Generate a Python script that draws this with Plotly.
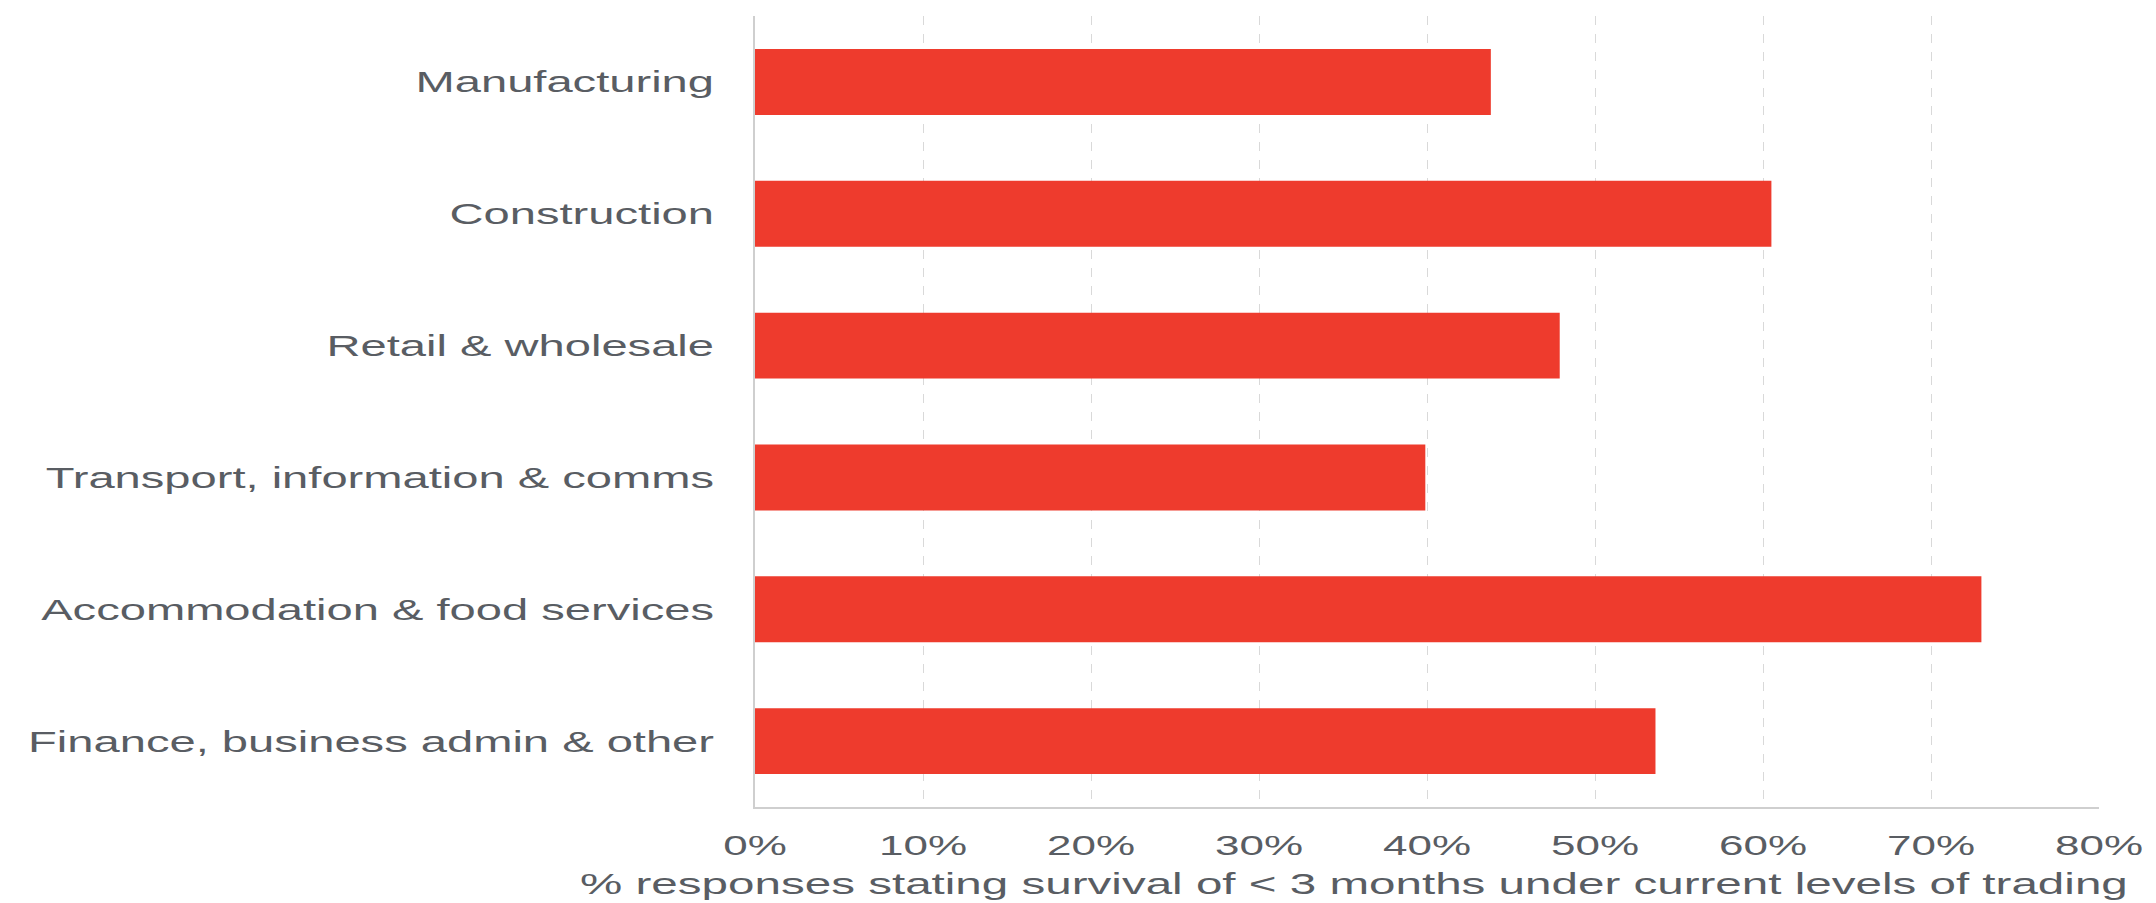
import plotly.graph_objects as go

# Share of responses stating survival of < 3 months, by sector
sectors = [
    "Manufacturing",
    "Construction",
    "Retail & wholesale",
    "Transport, information & comms",
    "Accommodation & food services",
    "Finance, business admin & other",
]
share_pct = [43.8, 60.5, 47.9, 39.9, 73.0, 53.6]

x_ticks = [0, 10, 20, 30, 40, 50, 60, 70, 80]
x_tick_labels = ["0%", "10%", "20%", "30%", "40%", "50%", "60%", "70%", "80%"]
x_title = "% responses stating survival of < 3 months under current levels of trading"

BAR_RED = "#EE3B2D"
TEXT_GREY = "#595d63"
AXIS_GREY = "#cfcfcf"
GRID_GREY = "#d9d9d9"
FONT = "Liberation Sans, Arial, sans-serif"

fig = go.Figure(
    go.Bar(
        x=share_pct,
        y=sectors,
        orientation="h",
        width=0.5,
        marker=dict(color=BAR_RED, line=dict(width=0)),
        hoverinfo="x+y",
    )
)

fig.update_layout(
    width=2156,
    height=903,
    margin=dict(l=755, r=57, t=16, b=96, pad=0),
    paper_bgcolor="white",
    plot_bgcolor="white",
    showlegend=False,
    font=dict(family=FONT, color=TEXT_GREY, size=30),
    xaxis=dict(
        range=[0, 80],
        tickvals=x_ticks,
        ticktext=x_tick_labels,
        tickfont=dict(size=28, color=TEXT_GREY),
        showgrid=True,
        gridcolor=GRID_GREY,
        griddash="dash",
        gridwidth=1,
        zeroline=False,
        showline=True,
        linecolor=AXIS_GREY,
        linewidth=2,
        ticks="",
        ticklabelstandoff=12,
        fixedrange=True,
    ),
    yaxis=dict(
        categoryorder="array",
        categoryarray=sectors,
        autorange="reversed",
        tickfont=dict(size=30, color=TEXT_GREY),
        showgrid=False,
        zeroline=False,
        showline=True,
        linecolor=AXIS_GREY,
        linewidth=2,
        ticks="",
        ticklabelstandoff=33,
        fixedrange=True,
    ),
    annotations=[
        dict(
            text=x_title,
            xref="paper",
            yref="paper",
            x=0.4457,
            y=-0.097,
            xanchor="center",
            yanchor="middle",
            showarrow=False,
            font=dict(size=29, color=TEXT_GREY),
        )
    ],
)

# Widen the label glyphs horizontally (the chart uses a stretched typeface)
stretch_js = """
(function(){
  var gd = document.getElementById('{plot_id}');
  var groups = [['.ytick text, .xtick text', 1.57], ['.annotation-text', 1.64]];
  function widen(){
    groups.forEach(function(g){
      gd.querySelectorAll(g[0]).forEach(function(t){
        var base = t.getAttribute('data-base-len');
        if (!base) {
          t.removeAttribute('textLength');
          base = t.getComputedTextLength();
          t.setAttribute('data-base-len', base);
        }
        t.setAttribute('textLength', (parseFloat(base) * g[1]).toFixed(1));
        t.setAttribute('lengthAdjust', 'spacingAndGlyphs');
      });
    });
  }
  widen();
  gd.on('plotly_afterplot', widen);
})();
"""

fig.write_html("out.html", post_script=stretch_js, config={"displayModeBar": False})
